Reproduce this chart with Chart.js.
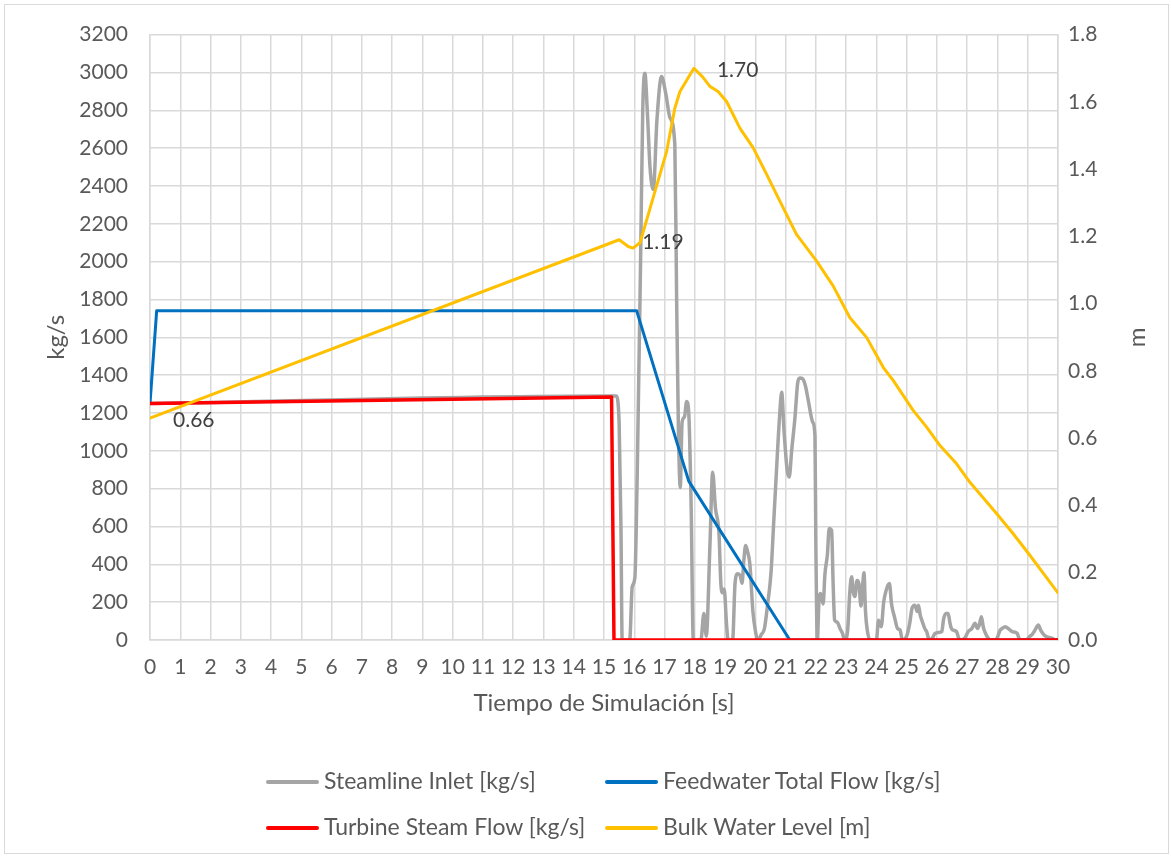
<!DOCTYPE html>
<html>
<head>
<meta charset="utf-8">
<script src="https://cdn.jsdelivr.net/npm/chart.js@4.4.1/dist/chart.umd.min.js"></script>
<style>
  body { margin: 0; background: #fff; font-family: Lato, sans-serif; }
  #wrap { position: relative; width: 1171px; height: 856px; }
  #frame { position: absolute; left: 4px; top: 4px; width: 1163px; height: 848px; border: 1px solid #d9d9d9; }
  canvas { position: absolute; left: 0; top: 0; }
  .leg { position: absolute; font-size: 23px; color: #595959; line-height: 28px; white-space: nowrap; }
  .leg span.ln { display: inline-block; width: 53px; height: 4px; border-radius: 2px; vertical-align: middle; margin-right: 5px; position: relative; top: -1px; }
</style>
</head>
<body>
<div id="wrap">
  <div id="frame"></div>
  <canvas id="chart" width="1171" height="856"></canvas>
  <div id="legend"></div>
</div>
<script>
// time [s] and values
const steamT = [0, 15.2, 15.4, 15.5, 15.56, 15.6, 15.85, 15.93, 16.02, 16.1, 16.21, 16.28, 16.35, 16.43, 16.52, 16.63, 16.75, 16.9, 17.05, 17.18, 17.34, 17.4, 17.46, 17.52, 17.58, 17.66, 17.73, 17.8, 17.88, 17.95,
  18.2, 18.3, 18.38, 18.5, 18.59, 18.68, 18.8, 18.86, 18.92, 18.97, 19.05, 19.1, 19.25, 19.33, 19.42, 19.5, 19.56, 19.62, 19.68, 19.74, 19.82, 19.92, 20.0, 20.08,
  20.2, 20.3, 20.4, 20.52, 20.6, 20.7, 20.8, 20.87, 20.95, 21.05, 21.12, 21.2, 21.31, 21.4, 21.47, 21.57, 21.66, 21.75, 21.9, 21.97, 22.0, 22.05,
  22.1, 22.16, 22.24, 22.3, 22.38, 22.44, 22.52, 22.57, 22.62, 22.7, 22.8, 22.88, 22.95, 23.05, 23.12, 23.18, 23.24, 23.29, 23.36, 23.42, 23.49, 23.55, 23.59, 23.64, 23.7, 23.79,
  24.0, 24.07, 24.16, 24.24, 24.31, 24.38, 24.43, 24.5, 24.6, 24.7, 24.78, 24.86, 25.0, 25.1, 25.18, 25.27, 25.35, 25.39, 25.45, 25.5, 25.6, 25.66, 25.75,
  25.85, 25.94, 26.05, 26.16, 26.22, 26.3, 26.37, 26.43, 26.48, 26.58, 26.65, 26.75, 26.92, 27.03, 27.15, 27.26, 27.34, 27.4, 27.47, 27.53, 27.58, 27.69, 27.78,
  27.9, 27.99, 28.08, 28.16, 28.25, 28.32, 28.4, 28.49, 28.6, 28.65, 28.75, 28.95, 29.05, 29.15, 29.21, 29.3, 29.35, 29.42, 29.46, 29.55, 29.63, 29.79, 29.95, 30];
const steamV = [1250, 1290, 1290, 1150, 600, 0, 0, 280, 330, 900, 2020, 2800, 2996, 2800, 2500, 2381, 2750, 2978, 2880, 2760, 2620, 1800, 1100, 806, 1150, 1180, 1260, 1200, 700, 0,
  0, 140, 20, 500, 887, 700, 560, 300, 250, 270, 80, 0, 0, 300, 350, 340, 300, 420, 500, 470, 400, 150, 50, 0,
  30, 60, 180, 360, 600, 900, 1180, 1309, 1100, 900, 861, 1000, 1177, 1360, 1385, 1380, 1340, 1265, 1150, 1080, 500, 0,
  200, 246, 190, 350, 450, 589, 580, 300, 105, 95, 60, 35, 0, 50, 250, 334, 250, 230, 315, 300, 180, 300, 355, 150, 50, 0,
  0, 105, 70, 200, 255, 290, 299, 190, 120, 60, 53, 0, 20, 88, 170, 184, 150, 184, 130, 105, 60, 44, 0,
  10, 35, 40, 44, 110, 140, 140, 90, 60, 50, 44, 0, 10, 44, 60, 88, 61, 80, 123, 70, 44, 10, 0,
  0, 10, 50, 61, 70, 65, 55, 44, 40, 35, 0, 0, 17, 30, 44, 70, 79, 55, 44, 25, 17, 10, 0, 0];

const feedT = [0, 0.22, 16.08, 17.8, 21.14, 30];
const feedV = [1250, 1740, 1740, 840, 0, 0];

const turbT = [0, 15.25, 15.33, 30];
const turbV = [1250, 1285, 0, 0];

const levelT = [0, 15.5, 15.8, 15.96, 16.19, 16.62, 17.07, 17.34, 17.51, 17.97, 18.25, 18.5, 18.77, 19.05, 19.49, 19.93, 20.37, 20.7, 21.36, 22.02,
  22.57, 23.12, 23.68, 24.23, 24.56, 25.22, 25.66, 26.1, 26.65, 27.09, 27.97, 28.52, 29.07, 30];
const levelV = [0.66, 1.19, 1.17, 1.165, 1.181, 1.314, 1.453, 1.581, 1.631, 1.70, 1.675, 1.646, 1.631, 1.601, 1.522, 1.463, 1.385, 1.325, 1.206, 1.127,
  1.053, 0.959, 0.899, 0.810, 0.771, 0.682, 0.633, 0.578, 0.524, 0.469, 0.376, 0.316, 0.252, 0.14];
const levelLabelIdx = [0, 1, 9];

const seriesNames = ["Steamline Inlet [kg/s]", "Feedwater Total Flow [kg/s]", "Turbine Steam Flow [kg/s]", "Bulk Water Level [m]"];
const seriesColors = ["#a5a5a5", "#0070c0", "#ff0000", "#ffc000"];

function pts(ts, vs) {
  return ts.map((t, i) => ({ x: t, y: vs[i] }));
}

const textColor = "#595959";
const gridColor = "#d9d9d9";
const tickFont = { family: "Lato", size: 21 };
const titleFont = { family: "Lato", size: 24 };

// data labels on the water level curve + right axis title read bottom-up
const extras = {
  id: "extras",
  afterDatasetsDraw(chart) {
    const meta = chart.getDatasetMeta(3);
    const ctx = chart.ctx;
    ctx.save();
    ctx.font = "21px Lato";
    ctx.fillStyle = "#404040";
    ctx.textBaseline = "middle";
    ctx.textAlign = "left";
    levelLabelIdx.forEach(i => {
      const p = meta.data[i];
      ctx.fillText(levelV[i].toFixed(2), p.x + 23, p.y + 2);
    });
    ctx.restore();
  },
  afterDraw(chart) {
    const ctx = chart.ctx;
    const a = chart.chartArea;
    ctx.save();
    ctx.translate(chart.scales.y1.right - 14, (a.top + a.bottom) / 2);
    ctx.rotate(-Math.PI / 2);
    ctx.font = "24px Lato";
    ctx.fillStyle = textColor;
    ctx.textAlign = "center";
    ctx.textBaseline = "middle";
    ctx.fillText("m", 0, 0);
    ctx.restore();
  }
};

new Chart(document.getElementById("chart"), {
  type: "line",
  data: {
    datasets: [
      { label: seriesNames[0], data: pts(steamT, steamV), borderColor: seriesColors[0], borderWidth: 3.5, cubicInterpolationMode: "monotone", yAxisID: "y", order: 4 },
      { label: seriesNames[1], data: pts(feedT, feedV), borderColor: seriesColors[1], borderWidth: 3, yAxisID: "y", order: 3 },
      { label: seriesNames[2], data: pts(turbT, turbV), borderColor: seriesColors[2], borderWidth: 3.5, yAxisID: "y", order: 2 },
      { label: seriesNames[3], data: pts(levelT, levelV), borderColor: seriesColors[3], borderWidth: 3, yAxisID: "y1", order: 1 }
    ]
  },
  options: {
    responsive: false,
    animation: false,
    elements: { point: { radius: 0 }, line: { borderCapStyle: "round", borderJoinStyle: "round" } },
    layout: { padding: { left: 42, right: 20, top: 33, bottom: 138 } },
    plugins: { legend: { display: false }, tooltip: { enabled: false } },
    scales: {
      x: {
        type: "linear", min: 0, max: 30,
        ticks: { stepSize: 1, color: textColor, font: tickFont, padding: 15, maxRotation: 0 },
        grid: { color: gridColor, lineWidth: 1.5, drawTicks: false },
        border: { color: gridColor, width: 1.5 },
        title: { display: true, text: "Tiempo de Simulación [s]", color: textColor, font: titleFont, padding: 0 },
        afterFit(s) { s.height = 78; }
      },
      y: {
        position: "left", min: 0, max: 3200,
        ticks: { stepSize: 200, color: textColor, font: tickFont, padding: 22, callback: v => String(v) },
        grid: { color: gridColor, lineWidth: 1.5, drawTicks: false },
        border: { color: gridColor, width: 1.5 },
        title: { display: true, text: "kg/s", color: textColor, font: titleFont, padding: 0 },
        afterFit(s) { s.width = 108; }
      },
      y1: {
        position: "right", min: 0, max: 1.8,
        ticks: { stepSize: 0.2, color: textColor, font: tickFont, padding: 10, callback: v => v.toFixed(1) },
        grid: { display: false, drawTicks: false },
        border: { color: gridColor, width: 1.5 },
        afterFit(s) { s.width = 93; }
      }
    }
  },
  plugins: [extras]
});

// legend in two columns, like the original
const legendPos = [[266, 780], [605, 780], [266, 826], [605, 826]];
const legend = document.getElementById("legend");
seriesNames.forEach((name, i) => {
  const item = document.createElement("div");
  item.className = "leg";
  item.style.left = legendPos[i][0] + "px";
  item.style.top = (legendPos[i][1] - 14) + "px";
  item.innerHTML = `<span class="ln" style="background:${seriesColors[i]}"></span>${name}`;
  legend.appendChild(item);
});
</script>
</body>
</html>
